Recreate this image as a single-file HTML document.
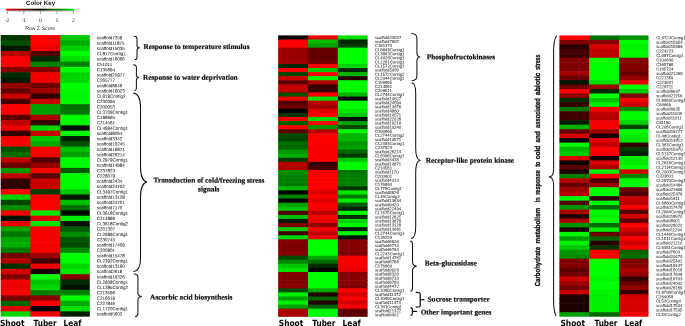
<!DOCTYPE html>
<html lang="en">
<head>
<meta charset="utf-8">
<title>Heatmaps</title>
<style>
html,body{margin:0;padding:0;background:#fff;}
body{width:685px;height:326px;overflow:hidden;}
svg{display:block;text-rendering:geometricPrecision;}
.gl text{font-family:"Liberation Sans",sans-serif;fill:#1c1c1c;stroke:#1c1c1c;}
.cat{font-family:"Liberation Serif",serif;font-weight:bold;font-size:7.3px;fill:#111;stroke:#111;stroke-width:0.22px;}
.ax{font-family:"DejaVu Sans",sans-serif;font-weight:bold;font-size:8.5px;fill:#000;}
.ck{font-family:"Liberation Sans",sans-serif;font-weight:bold;font-size:6.2px;fill:#111;}
.tk{font-family:"Liberation Sans",sans-serif;font-size:5.1px;fill:#222;}
.vt{font-family:"Liberation Sans",sans-serif;font-weight:bold;font-size:7.4px;fill:#111;stroke:#111;stroke-width:0.3px;}
</style>
</head>
<body>
<svg width="685" height="326" viewBox="0 0 685 326">
<defs><linearGradient id="kg" x1="0" y1="0" x2="1" y2="0"><stop offset="0" stop-color="#ff0000"/><stop offset="0.5" stop-color="#000000"/><stop offset="1" stop-color="#00ff00"/></linearGradient></defs>
<rect x="0" y="0" width="685" height="326" fill="#ffffff"/>
<text class="ck" x="26" y="4.8" textLength="29.2" lengthAdjust="spacingAndGlyphs">Color Key</text>
<rect x="6.1" y="8.7" width="68.4" height="1.8" fill="url(#kg)"/>
<path d="M7.3,10.9H73.4 M7.3,10.9V13.9 M23.8,10.9V13.9 M40.4,10.9V13.9 M56.9,10.9V13.9 M73.4,10.9V13.9" stroke="#333" stroke-width="0.45" fill="none"/>
<text class="tk" x="7" y="21.9" text-anchor="middle">-2</text>
<text class="tk" x="23.5" y="21.9" text-anchor="middle">-1</text>
<text class="tk" x="40.4" y="21.9" text-anchor="middle">0</text>
<text class="tk" x="56.9" y="21.9" text-anchor="middle">1</text>
<text class="tk" x="73.4" y="21.9" text-anchor="middle">2</text>
<text class="tk" x="25.2" y="29.6" textLength="29.9" lengthAdjust="spacingAndGlyphs">Row Z-Score</text>
<g>
<rect x="0.7" y="35.05" width="30.3" height="5.91" fill="#003400"/>
<rect x="0.7" y="40.36" width="30.3" height="5.91" fill="#005000"/>
<rect x="0.7" y="45.68" width="30.3" height="5.91" fill="#001900"/>
<rect x="0.7" y="50.99" width="30.3" height="5.91" fill="#b40000"/>
<rect x="0.7" y="56.3" width="30.3" height="5.91" fill="#ff0000"/>
<rect x="0.7" y="61.62" width="30.3" height="5.91" fill="#ff0000"/>
<rect x="0.7" y="66.93" width="30.3" height="5.91" fill="#820000"/>
<rect x="0.7" y="72.24" width="30.3" height="5.91" fill="#002d00"/>
<rect x="0.7" y="77.56" width="30.3" height="5.91" fill="#001900"/>
<rect x="0.7" y="82.87" width="30.3" height="5.91" fill="#960000"/>
<rect x="0.7" y="88.18" width="30.3" height="5.91" fill="#640000"/>
<rect x="0.7" y="93.5" width="30.3" height="5.91" fill="#c80000"/>
<rect x="0.7" y="98.81" width="30.3" height="5.91" fill="#460000"/>
<rect x="0.7" y="104.12" width="30.3" height="5.91" fill="#ff0000"/>
<rect x="0.7" y="109.43" width="30.3" height="5.91" fill="#ff0000"/>
<rect x="0.7" y="114.75" width="30.3" height="5.91" fill="#5a0000"/>
<rect x="0.7" y="120.06" width="30.3" height="5.91" fill="#be0000"/>
<rect x="0.7" y="125.37" width="30.3" height="5.91" fill="#eb0000"/>
<rect x="0.7" y="130.69" width="30.3" height="5.91" fill="#320000"/>
<rect x="0.7" y="136" width="30.3" height="5.91" fill="#f00000"/>
<rect x="0.7" y="141.31" width="30.3" height="5.91" fill="#fa0000"/>
<rect x="0.7" y="146.63" width="30.3" height="5.91" fill="#005000"/>
<rect x="0.7" y="151.94" width="30.3" height="5.91" fill="#006e00"/>
<rect x="0.7" y="157.25" width="30.3" height="5.91" fill="#be0000"/>
<rect x="0.7" y="162.57" width="30.3" height="5.91" fill="#6e0000"/>
<rect x="0.7" y="167.88" width="30.3" height="5.91" fill="#009600"/>
<rect x="0.7" y="173.19" width="30.3" height="5.91" fill="#be0000"/>
<rect x="0.7" y="178.51" width="30.3" height="5.91" fill="#320000"/>
<rect x="0.7" y="183.82" width="30.3" height="5.91" fill="#320000"/>
<rect x="0.7" y="189.13" width="30.3" height="5.91" fill="#fa0000"/>
<rect x="0.7" y="194.45" width="30.3" height="5.91" fill="#00d200"/>
<rect x="0.7" y="199.76" width="30.3" height="5.91" fill="#004600"/>
<rect x="0.7" y="205.07" width="30.3" height="5.91" fill="#008c00"/>
<rect x="0.7" y="210.39" width="30.3" height="5.91" fill="#f00000"/>
<rect x="0.7" y="215.7" width="30.3" height="5.91" fill="#001400"/>
<rect x="0.7" y="221.01" width="30.3" height="5.91" fill="#eb0000"/>
<rect x="0.7" y="226.33" width="30.3" height="5.91" fill="#00a000"/>
<rect x="0.7" y="231.64" width="30.3" height="5.91" fill="#007800"/>
<rect x="0.7" y="236.95" width="30.3" height="5.91" fill="#00a500"/>
<rect x="0.7" y="242.27" width="30.3" height="5.91" fill="#00af00"/>
<rect x="0.7" y="247.58" width="30.3" height="5.91" fill="#007a00"/>
<rect x="0.7" y="252.89" width="30.3" height="5.91" fill="#6e0000"/>
<rect x="0.7" y="258.2" width="30.3" height="5.91" fill="#b40000"/>
<rect x="0.7" y="263.52" width="30.3" height="5.91" fill="#003200"/>
<rect x="0.7" y="268.83" width="30.3" height="5.91" fill="#d70000"/>
<rect x="0.7" y="274.14" width="30.3" height="5.91" fill="#820000"/>
<rect x="0.7" y="279.46" width="30.3" height="5.91" fill="#f00000"/>
<rect x="0.7" y="284.77" width="30.3" height="5.91" fill="#eb0000"/>
<rect x="0.7" y="290.08" width="30.3" height="5.91" fill="#fa0000"/>
<rect x="0.7" y="295.4" width="30.3" height="5.91" fill="#780000"/>
<rect x="0.7" y="300.71" width="30.3" height="5.91" fill="#006400"/>
<rect x="0.7" y="306.02" width="30.3" height="5.91" fill="#e10000"/>
<rect x="0.7" y="311.34" width="30.3" height="5.31" fill="#00d700"/>
<rect x="30.4" y="35.05" width="30.5" height="5.91" fill="#ff0000"/>
<rect x="30.4" y="40.36" width="30.5" height="5.91" fill="#ff0000"/>
<rect x="30.4" y="45.68" width="30.5" height="5.91" fill="#f00000"/>
<rect x="30.4" y="50.99" width="30.5" height="5.91" fill="#500000"/>
<rect x="30.4" y="56.3" width="30.5" height="5.91" fill="#002800"/>
<rect x="30.4" y="61.62" width="30.5" height="5.91" fill="#008200"/>
<rect x="30.4" y="66.93" width="30.5" height="5.91" fill="#820000"/>
<rect x="30.4" y="72.24" width="30.5" height="5.91" fill="#f00000"/>
<rect x="30.4" y="77.56" width="30.5" height="5.91" fill="#f00000"/>
<rect x="30.4" y="82.87" width="30.5" height="5.91" fill="#6e0000"/>
<rect x="30.4" y="88.18" width="30.5" height="5.91" fill="#a00000"/>
<rect x="30.4" y="93.5" width="30.5" height="5.91" fill="#320000"/>
<rect x="30.4" y="98.81" width="30.5" height="5.91" fill="#c80000"/>
<rect x="30.4" y="104.12" width="30.5" height="5.91" fill="#00a000"/>
<rect x="30.4" y="109.43" width="30.5" height="5.91" fill="#00a000"/>
<rect x="30.4" y="114.75" width="30.5" height="5.91" fill="#aa0000"/>
<rect x="30.4" y="120.06" width="30.5" height="5.91" fill="#370000"/>
<rect x="30.4" y="125.37" width="30.5" height="5.91" fill="#00d200"/>
<rect x="30.4" y="130.69" width="30.5" height="5.91" fill="#c80000"/>
<rect x="30.4" y="136" width="30.5" height="5.91" fill="#00c800"/>
<rect x="30.4" y="141.31" width="30.5" height="5.91" fill="#00aa00"/>
<rect x="30.4" y="146.63" width="30.5" height="5.91" fill="#fa0000"/>
<rect x="30.4" y="151.94" width="30.5" height="5.91" fill="#fa0000"/>
<rect x="30.4" y="157.25" width="30.5" height="5.91" fill="#500000"/>
<rect x="30.4" y="162.57" width="30.5" height="5.91" fill="#960000"/>
<rect x="30.4" y="167.88" width="30.5" height="5.91" fill="#ff0000"/>
<rect x="30.4" y="173.19" width="30.5" height="5.91" fill="#5a0000"/>
<rect x="30.4" y="178.51" width="30.5" height="5.91" fill="#c80000"/>
<rect x="30.4" y="183.82" width="30.5" height="5.91" fill="#c80000"/>
<rect x="30.4" y="189.13" width="30.5" height="5.91" fill="#003c00"/>
<rect x="30.4" y="194.45" width="30.5" height="5.91" fill="#f00000"/>
<rect x="30.4" y="199.76" width="30.5" height="5.91" fill="#fa0000"/>
<rect x="30.4" y="205.07" width="30.5" height="5.91" fill="#fa0000"/>
<rect x="30.4" y="210.39" width="30.5" height="5.91" fill="#00e600"/>
<rect x="30.4" y="215.7" width="30.5" height="5.91" fill="#e10000"/>
<rect x="30.4" y="221.01" width="30.5" height="5.91" fill="#00e600"/>
<rect x="30.4" y="226.33" width="30.5" height="5.91" fill="#fa0000"/>
<rect x="30.4" y="231.64" width="30.5" height="5.91" fill="#fa0000"/>
<rect x="30.4" y="236.95" width="30.5" height="5.91" fill="#fa0000"/>
<rect x="30.4" y="242.27" width="30.5" height="5.91" fill="#f50000"/>
<rect x="30.4" y="247.58" width="30.5" height="5.91" fill="#fa0000"/>
<rect x="30.4" y="252.89" width="30.5" height="5.91" fill="#960000"/>
<rect x="30.4" y="258.2" width="30.5" height="5.91" fill="#3c0000"/>
<rect x="30.4" y="263.52" width="30.5" height="5.91" fill="#f00000"/>
<rect x="30.4" y="268.83" width="30.5" height="5.91" fill="#190000"/>
<rect x="30.4" y="274.14" width="30.5" height="5.91" fill="#00ff00"/>
<rect x="30.4" y="279.46" width="30.5" height="5.91" fill="#00c600"/>
<rect x="30.4" y="284.77" width="30.5" height="5.91" fill="#00d700"/>
<rect x="30.4" y="290.08" width="30.5" height="5.91" fill="#008200"/>
<rect x="30.4" y="295.4" width="30.5" height="5.91" fill="#8c0000"/>
<rect x="30.4" y="300.71" width="30.5" height="5.91" fill="#fa0000"/>
<rect x="30.4" y="306.02" width="30.5" height="5.91" fill="#050000"/>
<rect x="30.4" y="311.34" width="30.5" height="5.31" fill="#f00000"/>
<rect x="60.3" y="35.05" width="29.5" height="5.91" fill="#00c800"/>
<rect x="60.3" y="40.36" width="29.5" height="5.91" fill="#00aa00"/>
<rect x="60.3" y="45.68" width="29.5" height="5.91" fill="#00d200"/>
<rect x="60.3" y="50.99" width="29.5" height="5.91" fill="#00ff00"/>
<rect x="60.3" y="56.3" width="29.5" height="5.91" fill="#00dc00"/>
<rect x="60.3" y="61.62" width="29.5" height="5.91" fill="#008200"/>
<rect x="60.3" y="66.93" width="29.5" height="5.91" fill="#00ff00"/>
<rect x="60.3" y="72.24" width="29.5" height="5.91" fill="#00d200"/>
<rect x="60.3" y="77.56" width="29.5" height="5.91" fill="#00d700"/>
<rect x="60.3" y="82.87" width="29.5" height="5.91" fill="#00ff00"/>
<rect x="60.3" y="88.18" width="29.5" height="5.91" fill="#00fa00"/>
<rect x="60.3" y="93.5" width="29.5" height="5.91" fill="#00f500"/>
<rect x="60.3" y="98.81" width="29.5" height="5.91" fill="#00fa00"/>
<rect x="60.3" y="104.12" width="29.5" height="5.91" fill="#006e00"/>
<rect x="60.3" y="109.43" width="29.5" height="5.91" fill="#007800"/>
<rect x="60.3" y="114.75" width="29.5" height="5.91" fill="#00fa00"/>
<rect x="60.3" y="120.06" width="29.5" height="5.91" fill="#00fa00"/>
<rect x="60.3" y="125.37" width="29.5" height="5.91" fill="#000a00"/>
<rect x="60.3" y="130.69" width="29.5" height="5.91" fill="#00fa00"/>
<rect x="60.3" y="136" width="29.5" height="5.91" fill="#001e00"/>
<rect x="60.3" y="141.31" width="29.5" height="5.91" fill="#005000"/>
<rect x="60.3" y="146.63" width="29.5" height="5.91" fill="#00be00"/>
<rect x="60.3" y="151.94" width="29.5" height="5.91" fill="#00a000"/>
<rect x="60.3" y="157.25" width="29.5" height="5.91" fill="#00fa00"/>
<rect x="60.3" y="162.57" width="29.5" height="5.91" fill="#00fa00"/>
<rect x="60.3" y="167.88" width="29.5" height="5.91" fill="#005a00"/>
<rect x="60.3" y="173.19" width="29.5" height="5.91" fill="#00fa00"/>
<rect x="60.3" y="178.51" width="29.5" height="5.91" fill="#00fa00"/>
<rect x="60.3" y="183.82" width="29.5" height="5.91" fill="#00fa00"/>
<rect x="60.3" y="189.13" width="29.5" height="5.91" fill="#00c800"/>
<rect x="60.3" y="194.45" width="29.5" height="5.91" fill="#001900"/>
<rect x="60.3" y="199.76" width="29.5" height="5.91" fill="#00be00"/>
<rect x="60.3" y="205.07" width="29.5" height="5.91" fill="#006e00"/>
<rect x="60.3" y="210.39" width="29.5" height="5.91" fill="#000a00"/>
<rect x="60.3" y="215.7" width="29.5" height="5.91" fill="#00eb00"/>
<rect x="60.3" y="221.01" width="29.5" height="5.91" fill="#000f00"/>
<rect x="60.3" y="226.33" width="29.5" height="5.91" fill="#005a00"/>
<rect x="60.3" y="231.64" width="29.5" height="5.91" fill="#008c00"/>
<rect x="60.3" y="236.95" width="29.5" height="5.91" fill="#005500"/>
<rect x="60.3" y="242.27" width="29.5" height="5.91" fill="#004b00"/>
<rect x="60.3" y="247.58" width="29.5" height="5.91" fill="#008700"/>
<rect x="60.3" y="252.89" width="29.5" height="5.91" fill="#00ff00"/>
<rect x="60.3" y="258.2" width="29.5" height="5.91" fill="#00fa00"/>
<rect x="60.3" y="263.52" width="29.5" height="5.91" fill="#00d700"/>
<rect x="60.3" y="268.83" width="29.5" height="5.91" fill="#00eb00"/>
<rect x="60.3" y="274.14" width="29.5" height="5.91" fill="#820000"/>
<rect x="60.3" y="279.46" width="29.5" height="5.91" fill="#002a00"/>
<rect x="60.3" y="284.77" width="29.5" height="5.91" fill="#001400"/>
<rect x="60.3" y="290.08" width="29.5" height="5.91" fill="#008200"/>
<rect x="60.3" y="295.4" width="29.5" height="5.91" fill="#00ff00"/>
<rect x="60.3" y="300.71" width="29.5" height="5.91" fill="#00aa00"/>
<rect x="60.3" y="306.02" width="29.5" height="5.91" fill="#00e100"/>
<rect x="60.3" y="311.34" width="29.5" height="5.31" fill="#001e00"/>
</g>
<g class="gl" font-size="4.5" stroke-width="0.04" transform="rotate(0.03 96.8 175.85)">
<text x="96.8" y="39.33">scaffold7259</text>
<text x="96.8" y="44.64">scaffold11875</text>
<text x="96.8" y="49.95">scaffold15035</text>
<text x="96.8" y="55.27">CL817Contig1</text>
<text x="96.8" y="60.58">scaffold16066</text>
<text x="96.8" y="65.89">C51011</text>
<text x="96.8" y="71.21">C135694</text>
<text x="96.8" y="76.52">scaffold25977</text>
<text x="96.8" y="81.83">C265777</text>
<text x="96.8" y="87.15">scaffold8646</text>
<text x="96.8" y="92.46">scaffold16023</text>
<text x="96.8" y="97.77">CL819Contig2</text>
<text x="96.8" y="103.09">C230095</text>
<text x="96.8" y="108.4">C200053</text>
<text x="96.8" y="113.71">CL3709Contig1</text>
<text x="96.8" y="119.02">C199665</text>
<text x="96.8" y="124.34">C214561</text>
<text x="96.8" y="129.65">CL4994Contig1</text>
<text x="96.8" y="134.96">scaffold8264</text>
<text x="96.8" y="140.28">scaffold3342</text>
<text x="96.8" y="145.59">scaffold10245</text>
<text x="96.8" y="150.9">scaffold16871</text>
<text x="96.8" y="156.22">scaffold26214</text>
<text x="96.8" y="161.53">CL2979Contig1</text>
<text x="96.8" y="166.84">scaffold14984</text>
<text x="96.8" y="172.16">C237823</text>
<text x="96.8" y="177.47">C228079</text>
<text x="96.8" y="182.78">scaffold2434</text>
<text x="96.8" y="188.1">scaffold24702</text>
<text x="96.8" y="193.41">CL3497Contig1</text>
<text x="96.8" y="198.72">scaffold13128</text>
<text x="96.8" y="204.04">scaffold24701</text>
<text x="96.8" y="209.35">scaffold7170</text>
<text x="96.8" y="214.66">CL3618Contig1</text>
<text x="96.8" y="219.98">C214899</text>
<text x="96.8" y="225.29">CL3618Contig2</text>
<text x="96.8" y="230.6">C201307</text>
<text x="96.8" y="235.92">CL2689Contig1</text>
<text x="96.8" y="241.23">C230745</text>
<text x="96.8" y="246.54">scaffold17409</text>
<text x="96.8" y="251.85">C200801</text>
<text x="96.8" y="257.17">scaffold15478</text>
<text x="96.8" y="262.48">CL2392Contig1</text>
<text x="96.8" y="267.79">scaffold13160</text>
<text x="96.8" y="273.11">scaffold2618</text>
<text x="96.8" y="278.42">scaffold10326</text>
<text x="96.8" y="283.73">CL2908Contig1</text>
<text x="96.8" y="289.05">CL1285Contig2</text>
<text x="96.8" y="294.36">C213596</text>
<text x="96.8" y="299.67">C216619</text>
<text x="96.8" y="304.99">C227846</text>
<text x="96.8" y="310.3">CL1720Contig1</text>
<text x="96.8" y="315.61">scaffold5602</text>
</g>
<path d="M134.3,36.2 C136.19,36.32 137,37.12 137,38.5 L137,45.2 C137,46.76 138.22,47.67 139.7,47.8 C138.22,47.93 137,48.84 137,50.4 L137,57.5 C137,58.88 136.34,59.68 134.8,59.8" fill="none" stroke="#151515" stroke-width="1.05" stroke-linecap="round" stroke-linejoin="miter"/>
<path d="M133.6,64.8 C135.56,64.92 136.4,65.8 136.4,67.3 L136.4,75 C136.4,76.56 137.53,77.47 138.9,77.6 C137.53,77.73 136.4,78.64 136.4,80.2 L136.4,87.9 C136.4,89.4 135.92,90.28 134.8,90.4" fill="none" stroke="#151515" stroke-width="1.05" stroke-linecap="round" stroke-linejoin="miter"/>
<path d="M133.3,93 C138.34,93.7 140.5,98.6 140.5,107 L140.5,167 C140.5,176 143.38,181.25 146.9,182 C143.38,182.75 140.5,188 140.5,197 L140.5,258.4 C140.5,266.2 138.49,270.75 133.8,271.4" fill="none" stroke="#151515" stroke-width="1.05" stroke-linecap="round" stroke-linejoin="miter"/>
<path d="M134.2,273.9 C136.79,274.05 137.9,275.1 137.9,276.9 L137.9,293.1 C137.9,295.2 139.61,296.43 141.7,296.6 C139.61,296.78 137.9,298 137.9,300.1 L137.9,313.6 C137.9,315.4 137.18,316.45 135.5,316.6" fill="none" stroke="#151515" stroke-width="1.05" stroke-linecap="round" stroke-linejoin="miter"/>
<text class="cat" x="143.4" y="48.9" transform="rotate(0.03 143.4 48.9)" textLength="106.1" lengthAdjust="spacingAndGlyphs">Response to temperature stimulus</text>
<text class="cat" x="143" y="79.8" transform="rotate(0.03 143 79.8)" textLength="94.7" lengthAdjust="spacingAndGlyphs">Response to water deprivation</text>
<text class="cat" x="153.6" y="182.6" transform="rotate(0.03 153.6 182.6)" textLength="110.7" lengthAdjust="spacingAndGlyphs">Transduction of cold/freezing stress</text>
<text class="cat" x="198" y="191.4" transform="rotate(0.03 198 191.4)" textLength="21.4" lengthAdjust="spacingAndGlyphs">signals</text>
<text class="cat" x="150.1" y="299.5" transform="rotate(0.03 150.1 299.5)" textLength="82.2" lengthAdjust="spacingAndGlyphs">Ascorbic acid biosynthesis</text>
<text class="ax" x="0" y="326.2" transform="rotate(0.03 0 326.2)" textLength="24.5" lengthAdjust="spacingAndGlyphs">Shoot</text>
<text class="ax" x="33.6" y="326.2" transform="rotate(0.03 33.6 326.2)" textLength="23" lengthAdjust="spacingAndGlyphs">Tuber</text>
<text class="ax" x="63.5" y="326.2" transform="rotate(0.03 63.5 326.2)" textLength="18" lengthAdjust="spacingAndGlyphs">Leaf</text>
<g>
<rect x="278.15" y="35.38" width="30.45" height="4.68" fill="#000000"/>
<rect x="278.15" y="39.46" width="30.45" height="4.68" fill="#fa0000"/>
<rect x="278.15" y="43.54" width="30.45" height="4.68" fill="#fa0000"/>
<rect x="278.15" y="47.62" width="30.45" height="4.68" fill="#9b0000"/>
<rect x="278.15" y="51.7" width="30.45" height="4.68" fill="#9b0000"/>
<rect x="278.15" y="55.78" width="30.45" height="4.68" fill="#9b0000"/>
<rect x="278.15" y="59.86" width="30.45" height="4.68" fill="#a50000"/>
<rect x="278.15" y="63.93" width="30.45" height="4.68" fill="#002800"/>
<rect x="278.15" y="68.01" width="30.45" height="4.68" fill="#f50000"/>
<rect x="278.15" y="72.09" width="30.45" height="4.68" fill="#004600"/>
<rect x="278.15" y="76.17" width="30.45" height="4.68" fill="#cd0000"/>
<rect x="278.15" y="80.25" width="30.45" height="4.68" fill="#5a0000"/>
<rect x="278.15" y="84.33" width="30.45" height="4.68" fill="#c30000"/>
<rect x="278.15" y="88.41" width="30.45" height="4.68" fill="#be0000"/>
<rect x="278.15" y="92.49" width="30.45" height="4.68" fill="#005000"/>
<rect x="278.15" y="96.57" width="30.45" height="4.68" fill="#eb0000"/>
<rect x="278.15" y="100.65" width="30.45" height="4.68" fill="#500000"/>
<rect x="278.15" y="104.73" width="30.45" height="4.68" fill="#6e0000"/>
<rect x="278.15" y="108.81" width="30.45" height="4.68" fill="#000000"/>
<rect x="278.15" y="112.89" width="30.45" height="4.68" fill="#003200"/>
<rect x="278.15" y="116.97" width="30.45" height="4.68" fill="#eb0000"/>
<rect x="278.15" y="121.04" width="30.45" height="4.68" fill="#005f00"/>
<rect x="278.15" y="125.12" width="30.45" height="4.68" fill="#fa0000"/>
<rect x="278.15" y="129.2" width="30.45" height="4.68" fill="#5a0000"/>
<rect x="278.15" y="133.28" width="30.45" height="4.68" fill="#004b00"/>
<rect x="278.15" y="137.36" width="30.45" height="4.68" fill="#004600"/>
<rect x="278.15" y="141.44" width="30.45" height="4.68" fill="#006e00"/>
<rect x="278.15" y="145.52" width="30.45" height="4.68" fill="#006900"/>
<rect x="278.15" y="149.6" width="30.45" height="4.68" fill="#009600"/>
<rect x="278.15" y="153.68" width="30.45" height="4.68" fill="#00af00"/>
<rect x="278.15" y="157.76" width="30.45" height="4.68" fill="#003c00"/>
<rect x="278.15" y="161.84" width="30.45" height="4.68" fill="#b90000"/>
<rect x="278.15" y="165.92" width="30.45" height="4.68" fill="#ac0000"/>
<rect x="278.15" y="170" width="30.45" height="4.68" fill="#008c00"/>
<rect x="278.15" y="174.08" width="30.45" height="4.68" fill="#008200"/>
<rect x="278.15" y="178.15" width="30.45" height="4.68" fill="#007d00"/>
<rect x="278.15" y="182.23" width="30.45" height="4.68" fill="#007d00"/>
<rect x="278.15" y="186.31" width="30.45" height="4.68" fill="#00b400"/>
<rect x="278.15" y="190.39" width="30.45" height="4.68" fill="#000000"/>
<rect x="278.15" y="194.47" width="30.45" height="4.68" fill="#008200"/>
<rect x="278.15" y="198.55" width="30.45" height="4.68" fill="#000000"/>
<rect x="278.15" y="202.63" width="30.45" height="4.68" fill="#00a000"/>
<rect x="278.15" y="206.71" width="30.45" height="4.68" fill="#00c800"/>
<rect x="278.15" y="210.79" width="30.45" height="4.68" fill="#500000"/>
<rect x="278.15" y="214.87" width="30.45" height="4.68" fill="#00be00"/>
<rect x="278.15" y="218.95" width="30.45" height="4.68" fill="#001900"/>
<rect x="278.15" y="223.03" width="30.45" height="4.68" fill="#7d0000"/>
<rect x="278.15" y="227.11" width="30.45" height="4.68" fill="#00c800"/>
<rect x="278.15" y="231.19" width="30.45" height="4.68" fill="#410000"/>
<rect x="278.15" y="235.26" width="30.45" height="4.68" fill="#00d700"/>
<rect x="278.15" y="239.34" width="30.45" height="4.68" fill="#820000"/>
<rect x="278.15" y="243.42" width="30.45" height="4.68" fill="#7d0000"/>
<rect x="278.15" y="247.5" width="30.45" height="4.68" fill="#7d0000"/>
<rect x="278.15" y="251.58" width="30.45" height="4.68" fill="#870000"/>
<rect x="278.15" y="255.66" width="30.45" height="4.68" fill="#004b00"/>
<rect x="278.15" y="259.74" width="30.45" height="4.68" fill="#008c00"/>
<rect x="278.15" y="263.82" width="30.45" height="4.68" fill="#00c800"/>
<rect x="278.15" y="267.9" width="30.45" height="4.68" fill="#00e600"/>
<rect x="278.15" y="271.98" width="30.45" height="4.68" fill="#820000"/>
<rect x="278.15" y="276.06" width="30.45" height="4.68" fill="#7d0000"/>
<rect x="278.15" y="280.14" width="30.45" height="4.68" fill="#820000"/>
<rect x="278.15" y="284.22" width="30.45" height="4.68" fill="#8c0000"/>
<rect x="278.15" y="288.3" width="30.45" height="4.68" fill="#004b00"/>
<rect x="278.15" y="292.37" width="30.45" height="4.68" fill="#00f000"/>
<rect x="278.15" y="296.45" width="30.45" height="4.68" fill="#00a000"/>
<rect x="278.15" y="300.53" width="30.45" height="4.68" fill="#00f000"/>
<rect x="278.15" y="304.61" width="30.45" height="4.68" fill="#00a000"/>
<rect x="278.15" y="308.69" width="30.45" height="4.68" fill="#aa0000"/>
<rect x="278.15" y="312.77" width="30.45" height="4.08" fill="#aa0000"/>
<rect x="308" y="35.38" width="30.5" height="4.68" fill="#e60000"/>
<rect x="308" y="39.46" width="30.5" height="4.68" fill="#00be00"/>
<rect x="308" y="43.54" width="30.5" height="4.68" fill="#00a000"/>
<rect x="308" y="47.62" width="30.5" height="4.68" fill="#690000"/>
<rect x="308" y="51.7" width="30.5" height="4.68" fill="#640000"/>
<rect x="308" y="55.78" width="30.5" height="4.68" fill="#640000"/>
<rect x="308" y="59.86" width="30.5" height="4.68" fill="#730000"/>
<rect x="308" y="63.93" width="30.5" height="4.68" fill="#fa0000"/>
<rect x="308" y="68.01" width="30.5" height="4.68" fill="#00c800"/>
<rect x="308" y="72.09" width="30.5" height="4.68" fill="#fa0000"/>
<rect x="308" y="76.17" width="30.5" height="4.68" fill="#00f500"/>
<rect x="308" y="80.25" width="30.5" height="4.68" fill="#b40000"/>
<rect x="308" y="84.33" width="30.5" height="4.68" fill="#370000"/>
<rect x="308" y="88.41" width="30.5" height="4.68" fill="#3c0000"/>
<rect x="308" y="92.49" width="30.5" height="4.68" fill="#fa0000"/>
<rect x="308" y="96.57" width="30.5" height="4.68" fill="#00e100"/>
<rect x="308" y="100.65" width="30.5" height="4.68" fill="#be0000"/>
<rect x="308" y="104.73" width="30.5" height="4.68" fill="#a00000"/>
<rect x="308" y="108.81" width="30.5" height="4.68" fill="#e10000"/>
<rect x="308" y="112.89" width="30.5" height="4.68" fill="#fa0000"/>
<rect x="308" y="116.97" width="30.5" height="4.68" fill="#00dc00"/>
<rect x="308" y="121.04" width="30.5" height="4.68" fill="#fa0000"/>
<rect x="308" y="125.12" width="30.5" height="4.68" fill="#009600"/>
<rect x="308" y="129.2" width="30.5" height="4.68" fill="#b40000"/>
<rect x="308" y="133.28" width="30.5" height="4.68" fill="#fa0000"/>
<rect x="308" y="137.36" width="30.5" height="4.68" fill="#fa0000"/>
<rect x="308" y="141.44" width="30.5" height="4.68" fill="#fa0000"/>
<rect x="308" y="145.52" width="30.5" height="4.68" fill="#fa0000"/>
<rect x="308" y="149.6" width="30.5" height="4.68" fill="#fa0000"/>
<rect x="308" y="153.68" width="30.5" height="4.68" fill="#fa0000"/>
<rect x="308" y="157.76" width="30.5" height="4.68" fill="#fa0000"/>
<rect x="308" y="161.84" width="30.5" height="4.68" fill="#370000"/>
<rect x="308" y="165.92" width="30.5" height="4.68" fill="#460000"/>
<rect x="308" y="170" width="30.5" height="4.68" fill="#fa0000"/>
<rect x="308" y="174.08" width="30.5" height="4.68" fill="#fa0000"/>
<rect x="308" y="178.15" width="30.5" height="4.68" fill="#fa0000"/>
<rect x="308" y="182.23" width="30.5" height="4.68" fill="#fa0000"/>
<rect x="308" y="186.31" width="30.5" height="4.68" fill="#fa0000"/>
<rect x="308" y="190.39" width="30.5" height="4.68" fill="#dc0000"/>
<rect x="308" y="194.47" width="30.5" height="4.68" fill="#fa0000"/>
<rect x="308" y="198.55" width="30.5" height="4.68" fill="#dc0000"/>
<rect x="308" y="202.63" width="30.5" height="4.68" fill="#fa0000"/>
<rect x="308" y="206.71" width="30.5" height="4.68" fill="#f00000"/>
<rect x="308" y="210.79" width="30.5" height="4.68" fill="#b90000"/>
<rect x="308" y="214.87" width="30.5" height="4.68" fill="#f50000"/>
<rect x="308" y="218.95" width="30.5" height="4.68" fill="#e60000"/>
<rect x="308" y="223.03" width="30.5" height="4.68" fill="#8c0000"/>
<rect x="308" y="227.11" width="30.5" height="4.68" fill="#f00000"/>
<rect x="308" y="231.19" width="30.5" height="4.68" fill="#c30000"/>
<rect x="308" y="235.26" width="30.5" height="4.68" fill="#eb0000"/>
<rect x="308" y="239.34" width="30.5" height="4.68" fill="#00ff00"/>
<rect x="308" y="243.42" width="30.5" height="4.68" fill="#00ff00"/>
<rect x="308" y="247.5" width="30.5" height="4.68" fill="#00ff00"/>
<rect x="308" y="251.58" width="30.5" height="4.68" fill="#00ff00"/>
<rect x="308" y="255.66" width="30.5" height="4.68" fill="#00aa00"/>
<rect x="308" y="259.74" width="30.5" height="4.68" fill="#006900"/>
<rect x="308" y="263.82" width="30.5" height="4.68" fill="#002d00"/>
<rect x="308" y="267.9" width="30.5" height="4.68" fill="#000000"/>
<rect x="308" y="271.98" width="30.5" height="4.68" fill="#00ff00"/>
<rect x="308" y="276.06" width="30.5" height="4.68" fill="#00ff00"/>
<rect x="308" y="280.14" width="30.5" height="4.68" fill="#00ff00"/>
<rect x="308" y="284.22" width="30.5" height="4.68" fill="#00ff00"/>
<rect x="308" y="288.3" width="30.5" height="4.68" fill="#00a500"/>
<rect x="308" y="292.37" width="30.5" height="4.68" fill="#230000"/>
<rect x="308" y="296.45" width="30.5" height="4.68" fill="#006200"/>
<rect x="308" y="300.53" width="30.5" height="4.68" fill="#230000"/>
<rect x="308" y="304.61" width="30.5" height="4.68" fill="#005f00"/>
<rect x="308" y="308.69" width="30.5" height="4.68" fill="#00ff00"/>
<rect x="308" y="312.77" width="30.5" height="4.08" fill="#00ff00"/>
<rect x="337.9" y="35.38" width="29.7" height="4.68" fill="#00dc00"/>
<rect x="337.9" y="39.46" width="29.7" height="4.68" fill="#002800"/>
<rect x="337.9" y="43.54" width="29.7" height="4.68" fill="#003c00"/>
<rect x="337.9" y="47.62" width="29.7" height="4.68" fill="#00ff00"/>
<rect x="337.9" y="51.7" width="29.7" height="4.68" fill="#00ff00"/>
<rect x="337.9" y="55.78" width="29.7" height="4.68" fill="#00ff00"/>
<rect x="337.9" y="59.86" width="29.7" height="4.68" fill="#00ff00"/>
<rect x="337.9" y="63.93" width="29.7" height="4.68" fill="#00d200"/>
<rect x="337.9" y="68.01" width="29.7" height="4.68" fill="#002800"/>
<rect x="337.9" y="72.09" width="29.7" height="4.68" fill="#00b400"/>
<rect x="337.9" y="76.17" width="29.7" height="4.68" fill="#260000"/>
<rect x="337.9" y="80.25" width="29.7" height="4.68" fill="#00fa00"/>
<rect x="337.9" y="84.33" width="29.7" height="4.68" fill="#00fa00"/>
<rect x="337.9" y="88.41" width="29.7" height="4.68" fill="#00f500"/>
<rect x="337.9" y="92.49" width="29.7" height="4.68" fill="#00b400"/>
<rect x="337.9" y="96.57" width="29.7" height="4.68" fill="#000000"/>
<rect x="337.9" y="100.65" width="29.7" height="4.68" fill="#00fa00"/>
<rect x="337.9" y="104.73" width="29.7" height="4.68" fill="#00fa00"/>
<rect x="337.9" y="108.81" width="29.7" height="4.68" fill="#00e600"/>
<rect x="337.9" y="112.89" width="29.7" height="4.68" fill="#00c800"/>
<rect x="337.9" y="116.97" width="29.7" height="4.68" fill="#000f00"/>
<rect x="337.9" y="121.04" width="29.7" height="4.68" fill="#009e00"/>
<rect x="337.9" y="125.12" width="29.7" height="4.68" fill="#004600"/>
<rect x="337.9" y="129.2" width="29.7" height="4.68" fill="#00fa00"/>
<rect x="337.9" y="133.28" width="29.7" height="4.68" fill="#00b400"/>
<rect x="337.9" y="137.36" width="29.7" height="4.68" fill="#00b400"/>
<rect x="337.9" y="141.44" width="29.7" height="4.68" fill="#009600"/>
<rect x="337.9" y="145.52" width="29.7" height="4.68" fill="#00a000"/>
<rect x="337.9" y="149.6" width="29.7" height="4.68" fill="#006400"/>
<rect x="337.9" y="153.68" width="29.7" height="4.68" fill="#003c00"/>
<rect x="337.9" y="157.76" width="29.7" height="4.68" fill="#00c300"/>
<rect x="337.9" y="161.84" width="29.7" height="4.68" fill="#00fa00"/>
<rect x="337.9" y="165.92" width="29.7" height="4.68" fill="#00fa00"/>
<rect x="337.9" y="170" width="29.7" height="4.68" fill="#007300"/>
<rect x="337.9" y="174.08" width="29.7" height="4.68" fill="#007d00"/>
<rect x="337.9" y="178.15" width="29.7" height="4.68" fill="#008200"/>
<rect x="337.9" y="182.23" width="29.7" height="4.68" fill="#008200"/>
<rect x="337.9" y="186.31" width="29.7" height="4.68" fill="#003700"/>
<rect x="337.9" y="190.39" width="29.7" height="4.68" fill="#00eb00"/>
<rect x="337.9" y="194.47" width="29.7" height="4.68" fill="#007d00"/>
<rect x="337.9" y="198.55" width="29.7" height="4.68" fill="#00eb00"/>
<rect x="337.9" y="202.63" width="29.7" height="4.68" fill="#005a00"/>
<rect x="337.9" y="206.71" width="29.7" height="4.68" fill="#002300"/>
<rect x="337.9" y="210.79" width="29.7" height="4.68" fill="#00fa00"/>
<rect x="337.9" y="214.87" width="29.7" height="4.68" fill="#002d00"/>
<rect x="337.9" y="218.95" width="29.7" height="4.68" fill="#00d700"/>
<rect x="337.9" y="223.03" width="29.7" height="4.68" fill="#00ff00"/>
<rect x="337.9" y="227.11" width="29.7" height="4.68" fill="#001e00"/>
<rect x="337.9" y="231.19" width="29.7" height="4.68" fill="#00fa00"/>
<rect x="337.9" y="235.26" width="29.7" height="4.68" fill="#001400"/>
<rect x="337.9" y="239.34" width="29.7" height="4.68" fill="#820000"/>
<rect x="337.9" y="243.42" width="29.7" height="4.68" fill="#870000"/>
<rect x="337.9" y="247.5" width="29.7" height="4.68" fill="#870000"/>
<rect x="337.9" y="251.58" width="29.7" height="4.68" fill="#7d0000"/>
<rect x="337.9" y="255.66" width="29.7" height="4.68" fill="#fa0000"/>
<rect x="337.9" y="259.74" width="29.7" height="4.68" fill="#fa0000"/>
<rect x="337.9" y="263.82" width="29.7" height="4.68" fill="#f50000"/>
<rect x="337.9" y="267.9" width="29.7" height="4.68" fill="#e60000"/>
<rect x="337.9" y="271.98" width="29.7" height="4.68" fill="#820000"/>
<rect x="337.9" y="276.06" width="29.7" height="4.68" fill="#870000"/>
<rect x="337.9" y="280.14" width="29.7" height="4.68" fill="#870000"/>
<rect x="337.9" y="284.22" width="29.7" height="4.68" fill="#780000"/>
<rect x="337.9" y="288.3" width="29.7" height="4.68" fill="#fa0000"/>
<rect x="337.9" y="292.37" width="29.7" height="4.68" fill="#d40000"/>
<rect x="337.9" y="296.45" width="29.7" height="4.68" fill="#fa0000"/>
<rect x="337.9" y="300.53" width="29.7" height="4.68" fill="#d20000"/>
<rect x="337.9" y="304.61" width="29.7" height="4.68" fill="#fa0000"/>
<rect x="337.9" y="308.69" width="29.7" height="4.68" fill="#5f0000"/>
<rect x="337.9" y="312.77" width="29.7" height="4.08" fill="#5f0000"/>
</g>
<g class="gl" font-size="4.25" stroke-width="0.03" transform="rotate(0.03 374.8 176.12)">
<text x="374.8" y="38.95">scaffold23537</text>
<text x="374.8" y="43.03">scaffold7887</text>
<text x="374.8" y="47.11">C161373</text>
<text x="374.8" y="51.19">CL8648Contig1</text>
<text x="374.8" y="55.27">CL3663Contig1</text>
<text x="374.8" y="59.35">CL4026Contig1</text>
<text x="374.8" y="63.43">CL2281Contig1</text>
<text x="374.8" y="67.5">CL1572Contig1</text>
<text x="374.8" y="71.58">scaffold5089</text>
<text x="374.8" y="75.66">CL1572Contig2</text>
<text x="374.8" y="79.74">CL2044Contig1</text>
<text x="374.8" y="83.82">C199665</text>
<text x="374.8" y="87.9">C214561</text>
<text x="374.8" y="91.98">C206511</text>
<text x="374.8" y="96.06">CL2744Contig1</text>
<text x="374.8" y="100.14">scaffold10827</text>
<text x="374.8" y="104.22">scaffold24594</text>
<text x="374.8" y="108.3">scaffold13678</text>
<text x="374.8" y="112.38">scaffold4860</text>
<text x="374.8" y="116.46">scaffold10571</text>
<text x="374.8" y="120.54">scaffold22026</text>
<text x="374.8" y="124.61">scaffold19216</text>
<text x="374.8" y="128.69">scaffold10240</text>
<text x="374.8" y="132.77">C199665</text>
<text x="374.8" y="136.85">CL2744Contig2</text>
<text x="374.8" y="140.93">scaffold10571</text>
<text x="374.8" y="145.01">CL2393Contig1</text>
<text x="374.8" y="149.09">C237823</text>
<text x="374.8" y="153.17">scaffold26214</text>
<text x="374.8" y="157.25">CL6396Contig1</text>
<text x="374.8" y="161.33">scaffold3438</text>
<text x="374.8" y="165.41">scaffold10671</text>
<text x="374.8" y="169.49">C214561</text>
<text x="374.8" y="173.57">scaffold1170</text>
<text x="374.8" y="177.65">C200801</text>
<text x="374.8" y="181.72">scaffold4313</text>
<text x="374.8" y="185.8">C176660</text>
<text x="374.8" y="189.88">CL778Contig1</text>
<text x="374.8" y="193.96">scaffold8826</text>
<text x="374.8" y="198.04">CL49Contig3</text>
<text x="374.8" y="202.12">scaffold13634</text>
<text x="374.8" y="206.2">scaffold9420</text>
<text x="374.8" y="210.28">scaffold22494</text>
<text x="374.8" y="214.36">CL1675Contig1</text>
<text x="374.8" y="218.44">scaffold12821</text>
<text x="374.8" y="222.52">scaffold13678</text>
<text x="374.8" y="226.6">scaffold13128</text>
<text x="374.8" y="230.68">scaffold13061</text>
<text x="374.8" y="234.75">CL2744Contig3</text>
<text x="374.8" y="238.83">C136259</text>
<text x="374.8" y="242.91">scaffold6926</text>
<text x="374.8" y="246.99">scaffold9733</text>
<text x="374.8" y="251.07">scaffold6763</text>
<text x="374.8" y="255.15">CL2243Contig1</text>
<text x="374.8" y="259.23">scaffold14761</text>
<text x="374.8" y="263.31">scaffold6786</text>
<text x="374.8" y="267.39">C176660</text>
<text x="374.8" y="271.47">scaffold9926</text>
<text x="374.8" y="275.55">scaffold8326</text>
<text x="374.8" y="279.63">scaffold9733</text>
<text x="374.8" y="283.71">scaffold6763</text>
<text x="374.8" y="287.79">scaffold4472</text>
<text x="374.8" y="291.86">CL3085Contig1</text>
<text x="374.8" y="295.94">scaffold11472</text>
<text x="374.8" y="300.02">CL3089Contig1</text>
<text x="374.8" y="304.1">scaffold11473</text>
<text x="374.8" y="308.18">CL343Contig1</text>
<text x="374.8" y="312.26">scaffold21322</text>
<text x="374.8" y="316.34">scaffold9402</text>
</g>
<path d="M411.7,33.5 C415.34,33.73 416.9,35.34 416.9,38.1 L416.9,52.9 C416.9,55.3 418.38,56.7 420.2,56.9 C418.38,57.1 416.9,58.5 416.9,60.9 L416.9,75.9 C416.9,78.66 415.43,80.27 412,80.5" fill="none" stroke="#151515" stroke-width="1.05" stroke-linecap="round" stroke-linejoin="miter"/>
<path d="M412,82.7 C414.59,83.23 415.7,86.9 415.7,93.2 L415.7,147.8 C415.7,155.3 417.55,159.68 419.8,160.3 C417.55,160.93 415.7,165.3 415.7,172.8 L415.7,226.4 C415.7,233.6 414.38,237.8 411.3,238.4" fill="none" stroke="#151515" stroke-width="1.05" stroke-linecap="round" stroke-linejoin="miter"/>
<path d="M410.4,241 C411.87,241.16 412.5,242.28 412.5,244.2 L412.5,261.7 C412.5,264.4 414.39,265.97 416.7,266.2 C414.39,266.43 412.5,268 412.5,270.7 L412.5,287.9 C412.5,289.82 411.99,290.94 410.8,291.1" fill="none" stroke="#151515" stroke-width="1.05" stroke-linecap="round" stroke-linejoin="miter"/>
<path d="M416.2,292.4 Q420.2,292.3 420.2,294 L420.2,305.4 Q420.2,307.2 416.2,307.1 M420.2,299.7 L423.9,299.7" fill="none" stroke="#151515" stroke-width="1.3" stroke-linecap="round"/>
<path d="M411,307.6 Q412.4,308 412.4,309.3 L412.4,313.5 Q412.4,314.9 411,315.3 M412.4,311.3 L416.6,311.3" fill="none" stroke="#151515" stroke-width="1.25" stroke-linecap="round"/>
<text class="cat" x="426.7" y="59.3" transform="rotate(0.03 426.7 59.3)" textLength="68.5" lengthAdjust="spacingAndGlyphs">Phosphofructokinases</text>
<text class="cat" x="425.8" y="162.8" transform="rotate(0.03 425.8 162.8)" textLength="88.3" lengthAdjust="spacingAndGlyphs">Receptor-like protein kinase</text>
<text class="cat" x="424.8" y="265.6" transform="rotate(0.03 424.8 265.6)" textLength="52.1" lengthAdjust="spacingAndGlyphs">Beta-glucosidase</text>
<text class="cat" x="427.5" y="301.4" transform="rotate(0.03 427.5 301.4)" textLength="62.2" lengthAdjust="spacingAndGlyphs">Sucrose transporter</text>
<text class="cat" x="420.7" y="314.4" transform="rotate(0.03 420.7 314.4)" textLength="70.7" lengthAdjust="spacingAndGlyphs">Other important genes</text>
<text class="ax" x="278.8" y="326.2" transform="rotate(0.03 278.8 326.2)" textLength="24.5" lengthAdjust="spacingAndGlyphs">Shoot</text>
<text class="ax" x="312.3" y="326.2" transform="rotate(0.03 312.3 326.2)" textLength="23.1" lengthAdjust="spacingAndGlyphs">Tuber</text>
<text class="ax" x="342.6" y="326.2" transform="rotate(0.03 342.6 326.2)" textLength="18.2" lengthAdjust="spacingAndGlyphs">Leaf</text>
<g>
<rect x="559.4" y="35.42" width="30.3" height="5.06" fill="#fa0000"/>
<rect x="559.4" y="39.88" width="30.3" height="5.06" fill="#7d0000"/>
<rect x="559.4" y="44.35" width="30.3" height="5.06" fill="#280000"/>
<rect x="559.4" y="48.81" width="30.3" height="5.06" fill="#460000"/>
<rect x="559.4" y="53.28" width="30.3" height="5.06" fill="#410000"/>
<rect x="559.4" y="57.74" width="30.3" height="5.06" fill="#820000"/>
<rect x="559.4" y="62.21" width="30.3" height="5.06" fill="#820000"/>
<rect x="559.4" y="66.67" width="30.3" height="5.06" fill="#820000"/>
<rect x="559.4" y="71.14" width="30.3" height="5.06" fill="#a50000"/>
<rect x="559.4" y="75.6" width="30.3" height="5.06" fill="#6e0000"/>
<rect x="559.4" y="80.07" width="30.3" height="5.06" fill="#001400"/>
<rect x="559.4" y="84.53" width="30.3" height="5.06" fill="#6e0000"/>
<rect x="559.4" y="89" width="30.3" height="5.06" fill="#fa0000"/>
<rect x="559.4" y="93.46" width="30.3" height="5.06" fill="#8c0000"/>
<rect x="559.4" y="97.93" width="30.3" height="5.06" fill="#002d00"/>
<rect x="559.4" y="102.39" width="30.3" height="5.06" fill="#370000"/>
<rect x="559.4" y="106.86" width="30.3" height="5.06" fill="#007800"/>
<rect x="559.4" y="111.32" width="30.3" height="5.06" fill="#410000"/>
<rect x="559.4" y="115.79" width="30.3" height="5.06" fill="#410000"/>
<rect x="559.4" y="120.25" width="30.3" height="5.06" fill="#001e00"/>
<rect x="559.4" y="124.72" width="30.3" height="5.06" fill="#00b400"/>
<rect x="559.4" y="129.18" width="30.3" height="5.06" fill="#640000"/>
<rect x="559.4" y="133.64" width="30.3" height="5.06" fill="#d70000"/>
<rect x="559.4" y="138.11" width="30.3" height="5.06" fill="#000000"/>
<rect x="559.4" y="142.57" width="30.3" height="5.06" fill="#00f500"/>
<rect x="559.4" y="147.04" width="30.3" height="5.06" fill="#00b900"/>
<rect x="559.4" y="151.5" width="30.3" height="5.06" fill="#00cd00"/>
<rect x="559.4" y="155.97" width="30.3" height="5.06" fill="#dc0000"/>
<rect x="559.4" y="160.43" width="30.3" height="5.06" fill="#0a0000"/>
<rect x="559.4" y="164.9" width="30.3" height="5.06" fill="#5a0000"/>
<rect x="559.4" y="169.36" width="30.3" height="5.06" fill="#1e0000"/>
<rect x="559.4" y="173.83" width="30.3" height="5.06" fill="#007d00"/>
<rect x="559.4" y="178.29" width="30.3" height="5.06" fill="#b90000"/>
<rect x="559.4" y="182.76" width="30.3" height="5.06" fill="#690000"/>
<rect x="559.4" y="187.22" width="30.3" height="5.06" fill="#a00000"/>
<rect x="559.4" y="191.69" width="30.3" height="5.06" fill="#b40000"/>
<rect x="559.4" y="196.15" width="30.3" height="5.06" fill="#00fa00"/>
<rect x="559.4" y="200.62" width="30.3" height="5.06" fill="#500000"/>
<rect x="559.4" y="205.08" width="30.3" height="5.06" fill="#009600"/>
<rect x="559.4" y="209.55" width="30.3" height="5.06" fill="#aa0000"/>
<rect x="559.4" y="214.01" width="30.3" height="5.06" fill="#1e0000"/>
<rect x="559.4" y="218.48" width="30.3" height="5.06" fill="#aa0000"/>
<rect x="559.4" y="222.94" width="30.3" height="5.06" fill="#009600"/>
<rect x="559.4" y="227.4" width="30.3" height="5.06" fill="#1e0000"/>
<rect x="559.4" y="231.87" width="30.3" height="5.06" fill="#00fa00"/>
<rect x="559.4" y="236.33" width="30.3" height="5.06" fill="#00a000"/>
<rect x="559.4" y="240.8" width="30.3" height="5.06" fill="#00f000"/>
<rect x="559.4" y="245.26" width="30.3" height="5.06" fill="#00c800"/>
<rect x="559.4" y="249.73" width="30.3" height="5.06" fill="#009600"/>
<rect x="559.4" y="254.19" width="30.3" height="5.06" fill="#008c00"/>
<rect x="559.4" y="258.66" width="30.3" height="5.06" fill="#820000"/>
<rect x="559.4" y="263.12" width="30.3" height="5.06" fill="#820000"/>
<rect x="559.4" y="267.59" width="30.3" height="5.06" fill="#5f0000"/>
<rect x="559.4" y="272.05" width="30.3" height="5.06" fill="#730000"/>
<rect x="559.4" y="276.52" width="30.3" height="5.06" fill="#cd0000"/>
<rect x="559.4" y="280.98" width="30.3" height="5.06" fill="#a00000"/>
<rect x="559.4" y="285.45" width="30.3" height="5.06" fill="#730000"/>
<rect x="559.4" y="289.91" width="30.3" height="5.06" fill="#c80000"/>
<rect x="559.4" y="294.38" width="30.3" height="5.06" fill="#1e0000"/>
<rect x="559.4" y="298.84" width="30.3" height="5.06" fill="#1e0000"/>
<rect x="559.4" y="303.31" width="30.3" height="5.06" fill="#1e0000"/>
<rect x="559.4" y="307.77" width="30.3" height="5.06" fill="#1e0000"/>
<rect x="559.4" y="312.24" width="30.3" height="4.46" fill="#00a000"/>
<rect x="589.1" y="35.42" width="30.5" height="5.06" fill="#006e00"/>
<rect x="589.1" y="39.88" width="30.5" height="5.06" fill="#870000"/>
<rect x="589.1" y="44.35" width="30.5" height="5.06" fill="#d70000"/>
<rect x="589.1" y="48.81" width="30.5" height="5.06" fill="#be0000"/>
<rect x="589.1" y="53.28" width="30.5" height="5.06" fill="#be0000"/>
<rect x="589.1" y="57.74" width="30.5" height="5.06" fill="#00ff00"/>
<rect x="589.1" y="62.21" width="30.5" height="5.06" fill="#00ff00"/>
<rect x="589.1" y="66.67" width="30.5" height="5.06" fill="#00ff00"/>
<rect x="589.1" y="71.14" width="30.5" height="5.06" fill="#00ff00"/>
<rect x="589.1" y="75.6" width="30.5" height="5.06" fill="#00ff00"/>
<rect x="589.1" y="80.07" width="30.5" height="5.06" fill="#00e100"/>
<rect x="589.1" y="84.53" width="30.5" height="5.06" fill="#9b0000"/>
<rect x="589.1" y="89" width="30.5" height="5.06" fill="#002800"/>
<rect x="589.1" y="93.46" width="30.5" height="5.06" fill="#00ff00"/>
<rect x="589.1" y="97.93" width="30.5" height="5.06" fill="#00c300"/>
<rect x="589.1" y="102.39" width="30.5" height="5.06" fill="#00f000"/>
<rect x="589.1" y="106.86" width="30.5" height="5.06" fill="#fa0000"/>
<rect x="589.1" y="111.32" width="30.5" height="5.06" fill="#be0000"/>
<rect x="589.1" y="115.79" width="30.5" height="5.06" fill="#b40000"/>
<rect x="589.1" y="120.25" width="30.5" height="5.06" fill="#f50000"/>
<rect x="589.1" y="124.72" width="30.5" height="5.06" fill="#fa0000"/>
<rect x="589.1" y="129.18" width="30.5" height="5.06" fill="#a00000"/>
<rect x="589.1" y="133.64" width="30.5" height="5.06" fill="#190000"/>
<rect x="589.1" y="138.11" width="30.5" height="5.06" fill="#e10000"/>
<rect x="589.1" y="142.57" width="30.5" height="5.06" fill="#c30000"/>
<rect x="589.1" y="147.04" width="30.5" height="5.06" fill="#fa0000"/>
<rect x="589.1" y="151.5" width="30.5" height="5.06" fill="#f50000"/>
<rect x="589.1" y="155.97" width="30.5" height="5.06" fill="#190000"/>
<rect x="589.1" y="160.43" width="30.5" height="5.06" fill="#dc0000"/>
<rect x="589.1" y="164.9" width="30.5" height="5.06" fill="#aa0000"/>
<rect x="589.1" y="169.36" width="30.5" height="5.06" fill="#00f000"/>
<rect x="589.1" y="173.83" width="30.5" height="5.06" fill="#fa0000"/>
<rect x="589.1" y="178.29" width="30.5" height="5.06" fill="#4b0000"/>
<rect x="589.1" y="182.76" width="30.5" height="5.06" fill="#9b0000"/>
<rect x="589.1" y="187.22" width="30.5" height="5.06" fill="#00ff00"/>
<rect x="589.1" y="191.69" width="30.5" height="5.06" fill="#00fa00"/>
<rect x="589.1" y="196.15" width="30.5" height="5.06" fill="#320000"/>
<rect x="589.1" y="200.62" width="30.5" height="5.06" fill="#00fa00"/>
<rect x="589.1" y="205.08" width="30.5" height="5.06" fill="#006900"/>
<rect x="589.1" y="209.55" width="30.5" height="5.06" fill="#00fa00"/>
<rect x="589.1" y="214.01" width="30.5" height="5.06" fill="#00f000"/>
<rect x="589.1" y="218.48" width="30.5" height="5.06" fill="#00fa00"/>
<rect x="589.1" y="222.94" width="30.5" height="5.06" fill="#006900"/>
<rect x="589.1" y="227.4" width="30.5" height="5.06" fill="#00eb00"/>
<rect x="589.1" y="231.87" width="30.5" height="5.06" fill="#640000"/>
<rect x="589.1" y="236.33" width="30.5" height="5.06" fill="#006400"/>
<rect x="589.1" y="240.8" width="30.5" height="5.06" fill="#2d0000"/>
<rect x="589.1" y="245.26" width="30.5" height="5.06" fill="#003200"/>
<rect x="589.1" y="249.73" width="30.5" height="5.06" fill="#fa0000"/>
<rect x="589.1" y="254.19" width="30.5" height="5.06" fill="#fa0000"/>
<rect x="589.1" y="258.66" width="30.5" height="5.06" fill="#00ff00"/>
<rect x="589.1" y="263.12" width="30.5" height="5.06" fill="#00ff00"/>
<rect x="589.1" y="267.59" width="30.5" height="5.06" fill="#00ff00"/>
<rect x="589.1" y="272.05" width="30.5" height="5.06" fill="#00ff00"/>
<rect x="589.1" y="276.52" width="30.5" height="5.06" fill="#00f500"/>
<rect x="589.1" y="280.98" width="30.5" height="5.06" fill="#00ff00"/>
<rect x="589.1" y="285.45" width="30.5" height="5.06" fill="#00ff00"/>
<rect x="589.1" y="289.91" width="30.5" height="5.06" fill="#00f500"/>
<rect x="589.1" y="294.38" width="30.5" height="5.06" fill="#00f000"/>
<rect x="589.1" y="298.84" width="30.5" height="5.06" fill="#00f000"/>
<rect x="589.1" y="303.31" width="30.5" height="5.06" fill="#00f000"/>
<rect x="589.1" y="307.77" width="30.5" height="5.06" fill="#00f000"/>
<rect x="589.1" y="312.24" width="30.5" height="4.46" fill="#006400"/>
<rect x="619" y="35.42" width="29.5" height="5.06" fill="#009100"/>
<rect x="619" y="39.88" width="29.5" height="5.06" fill="#00ff00"/>
<rect x="619" y="44.35" width="29.5" height="5.06" fill="#00f000"/>
<rect x="619" y="48.81" width="29.5" height="5.06" fill="#00fa00"/>
<rect x="619" y="53.28" width="29.5" height="5.06" fill="#00fa00"/>
<rect x="619" y="57.74" width="29.5" height="5.06" fill="#820000"/>
<rect x="619" y="62.21" width="29.5" height="5.06" fill="#820000"/>
<rect x="619" y="66.67" width="29.5" height="5.06" fill="#820000"/>
<rect x="619" y="71.14" width="29.5" height="5.06" fill="#640000"/>
<rect x="619" y="75.6" width="29.5" height="5.06" fill="#960000"/>
<rect x="619" y="80.07" width="29.5" height="5.06" fill="#e60000"/>
<rect x="619" y="84.53" width="29.5" height="5.06" fill="#00ff00"/>
<rect x="619" y="89" width="29.5" height="5.06" fill="#00c800"/>
<rect x="619" y="93.46" width="29.5" height="5.06" fill="#7d0000"/>
<rect x="619" y="97.93" width="29.5" height="5.06" fill="#f50000"/>
<rect x="619" y="102.39" width="29.5" height="5.06" fill="#cd0000"/>
<rect x="619" y="106.86" width="29.5" height="5.06" fill="#008700"/>
<rect x="619" y="111.32" width="29.5" height="5.06" fill="#00fa00"/>
<rect x="619" y="115.79" width="29.5" height="5.06" fill="#00fa00"/>
<rect x="619" y="120.25" width="29.5" height="5.06" fill="#00d200"/>
<rect x="619" y="124.72" width="29.5" height="5.06" fill="#004100"/>
<rect x="619" y="129.18" width="29.5" height="5.06" fill="#00ff00"/>
<rect x="619" y="133.64" width="29.5" height="5.06" fill="#00eb00"/>
<rect x="619" y="138.11" width="29.5" height="5.06" fill="#00e600"/>
<rect x="619" y="142.57" width="29.5" height="5.06" fill="#370000"/>
<rect x="619" y="147.04" width="29.5" height="5.06" fill="#003c00"/>
<rect x="619" y="151.5" width="29.5" height="5.06" fill="#001e00"/>
<rect x="619" y="155.97" width="29.5" height="5.06" fill="#00eb00"/>
<rect x="619" y="160.43" width="29.5" height="5.06" fill="#00eb00"/>
<rect x="619" y="164.9" width="29.5" height="5.06" fill="#00fa00"/>
<rect x="619" y="169.36" width="29.5" height="5.06" fill="#d70000"/>
<rect x="619" y="173.83" width="29.5" height="5.06" fill="#008200"/>
<rect x="619" y="178.29" width="29.5" height="5.06" fill="#00fa00"/>
<rect x="619" y="182.76" width="29.5" height="5.06" fill="#00ff00"/>
<rect x="619" y="187.22" width="29.5" height="5.06" fill="#690000"/>
<rect x="619" y="191.69" width="29.5" height="5.06" fill="#500000"/>
<rect x="619" y="196.15" width="29.5" height="5.06" fill="#c80000"/>
<rect x="619" y="200.62" width="29.5" height="5.06" fill="#b90000"/>
<rect x="619" y="205.08" width="29.5" height="5.06" fill="#fa0000"/>
<rect x="619" y="209.55" width="29.5" height="5.06" fill="#550000"/>
<rect x="619" y="214.01" width="29.5" height="5.06" fill="#d20000"/>
<rect x="619" y="218.48" width="29.5" height="5.06" fill="#5f0000"/>
<rect x="619" y="222.94" width="29.5" height="5.06" fill="#fa0000"/>
<rect x="619" y="227.4" width="29.5" height="5.06" fill="#d20000"/>
<rect x="619" y="231.87" width="29.5" height="5.06" fill="#a50000"/>
<rect x="619" y="236.33" width="29.5" height="5.06" fill="#fa0000"/>
<rect x="619" y="240.8" width="29.5" height="5.06" fill="#cd0000"/>
<rect x="619" y="245.26" width="29.5" height="5.06" fill="#f50000"/>
<rect x="619" y="249.73" width="29.5" height="5.06" fill="#006400"/>
<rect x="619" y="254.19" width="29.5" height="5.06" fill="#006e00"/>
<rect x="619" y="258.66" width="29.5" height="5.06" fill="#820000"/>
<rect x="619" y="263.12" width="29.5" height="5.06" fill="#870000"/>
<rect x="619" y="267.59" width="29.5" height="5.06" fill="#aa0000"/>
<rect x="619" y="272.05" width="29.5" height="5.06" fill="#960000"/>
<rect x="619" y="276.52" width="29.5" height="5.06" fill="#320000"/>
<rect x="619" y="280.98" width="29.5" height="5.06" fill="#640000"/>
<rect x="619" y="285.45" width="29.5" height="5.06" fill="#960000"/>
<rect x="619" y="289.91" width="29.5" height="5.06" fill="#370000"/>
<rect x="619" y="294.38" width="29.5" height="5.06" fill="#d70000"/>
<rect x="619" y="298.84" width="29.5" height="5.06" fill="#d70000"/>
<rect x="619" y="303.31" width="29.5" height="5.06" fill="#d70000"/>
<rect x="619" y="307.77" width="29.5" height="5.06" fill="#d70000"/>
<rect x="619" y="312.24" width="29.5" height="4.46" fill="#fa0000"/>
</g>
<g class="gl" font-size="4.25" stroke-width="0.03" transform="rotate(0.03 656.1 176.06)">
<text x="656.1" y="39.18">CL6723Contig1</text>
<text x="656.1" y="43.65">scaffold15954</text>
<text x="656.1" y="48.11">scaffold15866</text>
<text x="656.1" y="52.58">C224223</text>
<text x="656.1" y="57.04">CL687Contig1</text>
<text x="656.1" y="61.51">C100640</text>
<text x="656.1" y="65.97">C165768</text>
<text x="656.1" y="70.44">C165724</text>
<text x="656.1" y="74.9">scaffold21265</text>
<text x="656.1" y="79.37">C221359</text>
<text x="656.1" y="83.83">C223801</text>
<text x="656.1" y="88.29">C226711</text>
<text x="656.1" y="92.76">scaffold9937</text>
<text x="656.1" y="97.22">scaffold21156</text>
<text x="656.1" y="101.69">CL6860Contig1</text>
<text x="656.1" y="106.15">C84669</text>
<text x="656.1" y="110.62">scaffold9935</text>
<text x="656.1" y="115.08">scaffold11009</text>
<text x="656.1" y="119.55">scaffold11011</text>
<text x="656.1" y="124.01">C61160</text>
<text x="656.1" y="128.48">CL206Contig1</text>
<text x="656.1" y="132.94">scaffold16727</text>
<text x="656.1" y="137.41">CL46Contig1</text>
<text x="656.1" y="141.87">scaffold13812</text>
<text x="656.1" y="146.34">CL363Contig1</text>
<text x="656.1" y="150.8">scaffold15970</text>
<text x="656.1" y="155.27">CL5137Contig1</text>
<text x="656.1" y="159.73">scaffold12139</text>
<text x="656.1" y="164.2">CL2616Contig1</text>
<text x="656.1" y="168.66">CL2114Contig1</text>
<text x="656.1" y="173.13">CL2000Contig1</text>
<text x="656.1" y="177.59">C203801</text>
<text x="656.1" y="182.05">CL2970Contig1</text>
<text x="656.1" y="186.52">scaffold14484</text>
<text x="656.1" y="190.98">scaffold21608</text>
<text x="656.1" y="195.45">scaffold25476</text>
<text x="656.1" y="199.91">scaffold1611</text>
<text x="656.1" y="204.38">CL6860Contig1</text>
<text x="656.1" y="208.84">scaffold17478</text>
<text x="656.1" y="213.31">CL2964Contig1</text>
<text x="656.1" y="217.77">scaffold16970</text>
<text x="656.1" y="222.24">scaffold8901</text>
<text x="656.1" y="226.7">scaffold26022</text>
<text x="656.1" y="231.17">scaffold11294</text>
<text x="656.1" y="235.63">CL1446Contig1</text>
<text x="656.1" y="240.1">CL1511Contig1</text>
<text x="656.1" y="244.56">scaffold21210</text>
<text x="656.1" y="249.03">CL6381Contig1</text>
<text x="656.1" y="253.49">scaffold7603</text>
<text x="656.1" y="257.96">scaffold20470</text>
<text x="656.1" y="262.42">scaffold25402</text>
<text x="656.1" y="266.89">scaffold18447</text>
<text x="656.1" y="271.35">scaffold15016</text>
<text x="656.1" y="275.81">scaffold17606</text>
<text x="656.1" y="280.28">scaffold16703</text>
<text x="656.1" y="284.74">scaffold24002</text>
<text x="656.1" y="289.21">scaffold26169</text>
<text x="656.1" y="293.67">CL6798Contig1</text>
<text x="656.1" y="298.14">C164058</text>
<text x="656.1" y="302.6">CL53Contig4</text>
<text x="656.1" y="307.07">scaffold17504</text>
<text x="656.1" y="311.53">scaffold17505</text>
<text x="656.1" y="316">CL53Contig2</text>
</g>
<path d="M556.5,36 Q553.6,40 553.6,52 L553.6,169 Q553.6,176.9 548.8,176.9 Q553.6,176.9 553.6,185 L553.6,300 Q553.6,311 555.9,315.5" fill="none" stroke="#151515" stroke-width="1.05" stroke-linecap="round"/>
<g class="vt" transform="translate(540.3,0) rotate(-90)">
<text x="-286.3" y="0" textLength="39.3" lengthAdjust="spacingAndGlyphs">Carbohydrate</text>
<text x="-243.6" y="0" textLength="35.9" lengthAdjust="spacingAndGlyphs">metabolism</text>
<text x="-202.3" y="0" textLength="4.8" lengthAdjust="spacingAndGlyphs">in</text>
<text x="-194.8" y="0" textLength="24.7" lengthAdjust="spacingAndGlyphs">response</text>
<text x="-166.8" y="0" textLength="5.3" lengthAdjust="spacingAndGlyphs">to</text>
<text x="-159.3" y="0" textLength="13.7" lengthAdjust="spacingAndGlyphs">cold</text>
<text x="-142.5" y="0" textLength="11.3" lengthAdjust="spacingAndGlyphs">and</text>
<text x="-127.9" y="0" textLength="29.6" lengthAdjust="spacingAndGlyphs">associated</text>
<text x="-95.2" y="0" textLength="22.7" lengthAdjust="spacingAndGlyphs">abiotic</text>
<text x="-69.8" y="0" textLength="15.1" lengthAdjust="spacingAndGlyphs">stress</text>
</g>
<text class="ax" x="560.5" y="326.2" transform="rotate(0.03 560.5 326.2)" textLength="24.5" lengthAdjust="spacingAndGlyphs">Shoot</text>
<text class="ax" x="594.5" y="326.2" transform="rotate(0.03 594.5 326.2)" textLength="22.9" lengthAdjust="spacingAndGlyphs">Tuber</text>
<text class="ax" x="624.5" y="326.2" transform="rotate(0.03 624.5 326.2)" textLength="17.8" lengthAdjust="spacingAndGlyphs">Leaf</text>
</svg>
</body>
</html>
